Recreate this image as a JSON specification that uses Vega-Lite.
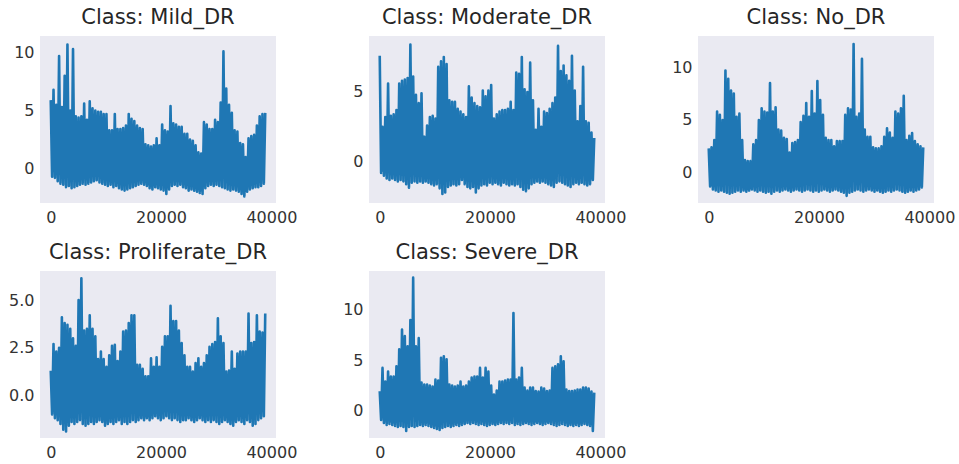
{
"$schema": "https://vega.github.io/schema/vega-lite/v6.json",
"background": "white",
"padding": {"left": 8, "top": 7, "right": 5, "bottom": 3},
"bounds": "flush",
"columns": 3,
"spacing": {"row": 68, "column": 93},
"data": {"values": [
{"x":0,"Mild":5.9,"Moderate":7.6,"No":2.3,"Proliferate":1.3,"Severe":1.95},
{"x":252,"Mild":-0.7,"Moderate":-0.8,"No":-1.3,"Proliferate":-1.0,"Severe":-0.9},
{"x":505,"Mild":6.8,"Moderate":2.5,"No":2.4,"Proliferate":2.7,"Severe":4.25},
{"x":757,"Mild":-0.8,"Moderate":-1.0,"No":-1.6,"Proliferate":-1.2,"Severe":-1.2},
{"x":1010,"Mild":5.5,"Moderate":3.2,"No":3.1,"Proliferate":2.3,"Severe":2.9},
{"x":1262,"Mild":-1.1,"Moderate":-1.2,"No":-1.7,"Proliferate":-1.3,"Severe":-1.4},
{"x":1515,"Mild":9.7,"Moderate":5.6,"No":5.8,"Proliferate":2.5,"Severe":3.9},
{"x":1767,"Mild":-1.3,"Moderate":-1.3,"No":-1.8,"Proliferate":-1.5,"Severe":-1.3},
{"x":2020,"Mild":5.3,"Moderate":3.3,"No":5.5,"Proliferate":4.1,"Severe":3.4},
{"x":2272,"Mild":-1.4,"Moderate":-1.2,"No":-1.7,"Proliferate":-1.8,"Severe":-1.4},
{"x":2525,"Mild":8.0,"Moderate":3.4,"No":5.0,"Proliferate":3.8,"Severe":3.4},
{"x":2777,"Mild":-1.6,"Moderate":-1.3,"No":-1.8,"Proliferate":-1.9,"Severe":-1.5},
{"x":3030,"Mild":10.7,"Moderate":3.7,"No":9.7,"Proliferate":3.7,"Severe":4.4},
{"x":3282,"Mild":-1.5,"Moderate":-1.4,"No":-1.9,"Proliferate":-1.6,"Severe":-1.6},
{"x":3535,"Mild":5.0,"Moderate":5.6,"No":8.9,"Proliferate":3.5,"Severe":6.1},
{"x":3787,"Mild":-1.7,"Moderate":-1.3,"No":-2.0,"Proliferate":-1.4,"Severe":-1.5},
{"x":4040,"Mild":10.3,"Moderate":5.8,"No":7.8,"Proliferate":3.0,"Severe":8.05},
{"x":4292,"Mild":-1.6,"Moderate":-1.4,"No":-1.9,"Proliferate":-1.5,"Severe":-1.6},
{"x":4545,"Mild":4.5,"Moderate":5.9,"No":7.5,"Proliferate":2.6,"Severe":7.4},
{"x":4797,"Mild":-1.5,"Moderate":-1.6,"No":-1.8,"Proliferate":-1.4,"Severe":-2.0},
{"x":5050,"Mild":4.4,"Moderate":6.0,"No":5.3,"Proliferate":5.0,"Severe":6.4},
{"x":5302,"Mild":-1.4,"Moderate":-1.85,"No":-1.7,"Proliferate":-1.3,"Severe":-1.6},
{"x":5555,"Mild":4.5,"Moderate":8.4,"No":5.6,"Proliferate":6.15,"Severe":9.0},
{"x":5807,"Mild":-1.3,"Moderate":-1.5,"No":-1.8,"Proliferate":-1.5,"Severe":-1.5},
{"x":6060,"Mild":5.6,"Moderate":6.1,"No":3.1,"Proliferate":3.4,"Severe":13.2},
{"x":6312,"Mild":-1.4,"Moderate":-1.4,"No":-1.7,"Proliferate":-1.6,"Severe":-1.6},
{"x":6565,"Mild":4.2,"Moderate":4.8,"No":1.2,"Proliferate":3.5,"Severe":6.4},
{"x":6817,"Mild":-1.3,"Moderate":-1.5,"No":-1.8,"Proliferate":-1.5,"Severe":-1.5},
{"x":7070,"Mild":5.8,"Moderate":4.2,"No":1.1,"Proliferate":4.2,"Severe":7.2},
{"x":7322,"Mild":-1.2,"Moderate":-1.4,"No":-1.7,"Proliferate":-1.4,"Severe":-1.4},
{"x":7575,"Mild":5.2,"Moderate":4.9,"No":1.1,"Proliferate":3.5,"Severe":2.8},
{"x":7827,"Mild":-1.1,"Moderate":-1.5,"No":-1.6,"Proliferate":-1.5,"Severe":-1.5},
{"x":8080,"Mild":5.0,"Moderate":1.8,"No":2.7,"Proliferate":3.1,"Severe":2.6},
{"x":8332,"Mild":-1.0,"Moderate":-1.4,"No":-1.7,"Proliferate":-1.4,"Severe":-1.4},
{"x":8585,"Mild":4.9,"Moderate":2.6,"No":3.1,"Proliferate":1.9,"Severe":2.6},
{"x":8837,"Mild":-1.2,"Moderate":-1.5,"No":-1.8,"Proliferate":-1.3,"Severe":-1.5},
{"x":9090,"Mild":4.9,"Moderate":3.2,"No":5.0,"Proliferate":2.3,"Severe":2.5},
{"x":9342,"Mild":-1.3,"Moderate":-1.6,"No":-1.7,"Proliferate":-1.4,"Severe":-1.6},
{"x":9595,"Mild":4.7,"Moderate":3.3,"No":6.1,"Proliferate":1.9,"Severe":2.4},
{"x":9847,"Mild":-1.4,"Moderate":-1.7,"No":-1.8,"Proliferate":-1.6,"Severe":-1.7},
{"x":10100,"Mild":4.7,"Moderate":3.1,"No":5.8,"Proliferate":1.5,"Severe":3.1},
{"x":10352,"Mild":-1.5,"Moderate":-1.6,"No":-1.9,"Proliferate":-1.5,"Severe":-1.8},
{"x":10605,"Mild":3.3,"Moderate":6.8,"No":5.7,"Proliferate":2.1,"Severe":3.0},
{"x":10857,"Mild":-1.4,"Moderate":-1.9,"No":-1.8,"Proliferate":-1.4,"Severe":-1.9},
{"x":11110,"Mild":3.3,"Moderate":7.2,"No":8.5,"Proliferate":2.6,"Severe":5.25},
{"x":11362,"Mild":-1.6,"Moderate":-2.3,"No":-2.0,"Proliferate":-1.5,"Severe":-1.7},
{"x":11615,"Mild":4.7,"Moderate":7.5,"No":5.8,"Proliferate":2.65,"Severe":5.4},
{"x":11867,"Mild":-1.5,"Moderate":-2.2,"No":-1.8,"Proliferate":-1.4,"Severe":-1.6},
{"x":12120,"Mild":3.4,"Moderate":7.0,"No":6.2,"Proliferate":1.8,"Severe":5.1},
{"x":12372,"Mild":-1.7,"Moderate":-1.8,"No":-1.7,"Proliferate":-1.3,"Severe":-1.5},
{"x":12625,"Mild":3.4,"Moderate":4.4,"No":4.1,"Proliferate":2.3,"Severe":2.6},
{"x":12877,"Mild":-1.8,"Moderate":-1.7,"No":-1.8,"Proliferate":-1.5,"Severe":-1.6},
{"x":13130,"Mild":3.5,"Moderate":4.3,"No":4.0,"Proliferate":3.35,"Severe":2.5},
{"x":13382,"Mild":-1.9,"Moderate":-1.6,"No":-1.7,"Proliferate":-1.4,"Severe":-1.5},
{"x":13635,"Mild":3.7,"Moderate":4.3,"No":3.3,"Proliferate":3.4,"Severe":2.4},
{"x":13887,"Mild":-1.8,"Moderate":-1.7,"No":-1.6,"Proliferate":-1.5,"Severe":-1.4},
{"x":14140,"Mild":4.7,"Moderate":3.8,"No":3.2,"Proliferate":3.8,"Severe":2.5},
{"x":14392,"Mild":-1.7,"Moderate":-1.6,"No":-1.7,"Proliferate":-1.4,"Severe":-1.5},
{"x":14645,"Mild":4.3,"Moderate":3.6,"No":1.9,"Proliferate":4.2,"Severe":2.9},
{"x":14897,"Mild":-1.6,"Moderate":-1.3,"No":-1.8,"Proliferate":-1.3,"Severe":-1.4},
{"x":15150,"Mild":4.1,"Moderate":3.4,"No":2.8,"Proliferate":4.2,"Severe":2.4},
{"x":15402,"Mild":-1.5,"Moderate":-1.6,"No":-1.7,"Proliferate":-1.4,"Severe":-1.3},
{"x":15655,"Mild":3.7,"Moderate":3.2,"No":2.9,"Proliferate":1.6,"Severe":2.5},
{"x":15907,"Mild":-1.4,"Moderate":-1.8,"No":-1.6,"Proliferate":-1.3,"Severe":-1.2},
{"x":16160,"Mild":3.5,"Moderate":5.4,"No":3.1,"Proliferate":1.6,"Severe":2.9},
{"x":16412,"Mild":-1.3,"Moderate":-1.9,"No":-1.7,"Proliferate":-1.2,"Severe":-1.3},
{"x":16665,"Mild":3.4,"Moderate":4.6,"No":4.8,"Proliferate":1.4,"Severe":3.3},
{"x":16917,"Mild":-1.4,"Moderate":-1.8,"No":-1.8,"Proliferate":-1.3,"Severe":-1.2},
{"x":17170,"Mild":2.1,"Moderate":4.2,"No":5.4,"Proliferate":1.0,"Severe":3.4},
{"x":17422,"Mild":-1.5,"Moderate":-2.2,"No":-1.7,"Proliferate":-1.2,"Severe":-1.3},
{"x":17675,"Mild":2.0,"Moderate":4.0,"No":6.6,"Proliferate":1.0,"Severe":3.4},
{"x":17927,"Mild":-1.7,"Moderate":-1.9,"No":-1.6,"Proliferate":-1.3,"Severe":-1.4},
{"x":18180,"Mild":1.9,"Moderate":3.9,"No":5.3,"Proliferate":1.95,"Severe":4.25},
{"x":18432,"Mild":-1.8,"Moderate":-1.7,"No":-1.7,"Proliferate":-1.2,"Severe":-1.3},
{"x":18685,"Mild":2.0,"Moderate":5.1,"No":7.75,"Proliferate":1.5,"Severe":3.3},
{"x":18937,"Mild":-1.6,"Moderate":-1.6,"No":-1.8,"Proliferate":-1.1,"Severe":-1.4},
{"x":19190,"Mild":2.6,"Moderate":4.7,"No":5.6,"Proliferate":2.0,"Severe":4.25},
{"x":19442,"Mild":-1.7,"Moderate":-1.7,"No":-1.7,"Proliferate":-1.2,"Severe":-1.5},
{"x":19695,"Mild":2.0,"Moderate":5.1,"No":8.7,"Proliferate":1.5,"Severe":3.9},
{"x":19947,"Mild":-1.8,"Moderate":-1.5,"No":-1.8,"Proliferate":-1.3,"Severe":-1.4},
{"x":20200,"Mild":3.8,"Moderate":5.5,"No":6.9,"Proliferate":2.55,"Severe":2.5},
{"x":20452,"Mild":-1.9,"Moderate":-1.6,"No":-1.7,"Proliferate":-1.2,"Severe":-1.3},
{"x":20705,"Mild":3.3,"Moderate":3.1,"No":5.5,"Proliferate":3.1,"Severe":1.6},
{"x":20957,"Mild":-2.2,"Moderate":-1.5,"No":-1.6,"Proliferate":-1.1,"Severe":-1.4},
{"x":21210,"Mild":3.2,"Moderate":3.4,"No":3.3,"Proliferate":3.1,"Severe":2.0},
{"x":21462,"Mild":-1.8,"Moderate":-1.6,"No":-1.7,"Proliferate":-1.2,"Severe":-1.3},
{"x":21715,"Mild":5.4,"Moderate":3.6,"No":3.1,"Proliferate":4.7,"Severe":2.9},
{"x":21967,"Mild":-1.5,"Moderate":-1.7,"No":-1.8,"Proliferate":-1.3,"Severe":-1.2},
{"x":22220,"Mild":3.9,"Moderate":3.7,"No":3.1,"Proliferate":3.9,"Severe":2.9},
{"x":22472,"Mild":-1.4,"Moderate":-1.5,"No":-1.7,"Proliferate":-1.2,"Severe":-1.3},
{"x":22725,"Mild":3.8,"Moderate":3.7,"No":2.5,"Proliferate":3.9,"Severe":3.0},
{"x":22977,"Mild":-1.5,"Moderate":-1.6,"No":-1.6,"Proliferate":-1.3,"Severe":-1.2},
{"x":23230,"Mild":3.6,"Moderate":3.8,"No":3.0,"Proliferate":3.4,"Severe":3.1},
{"x":23482,"Mild":-1.4,"Moderate":-1.7,"No":-1.7,"Proliferate":-1.4,"Severe":-1.3},
{"x":23735,"Mild":3.6,"Moderate":4.3,"No":3.0,"Proliferate":2.75,"Severe":3.1},
{"x":23987,"Mild":-1.6,"Moderate":-1.6,"No":-1.8,"Proliferate":-1.3,"Severe":-1.2},
{"x":24240,"Mild":3.0,"Moderate":3.7,"No":3.0,"Proliferate":2.1,"Severe":9.7},
{"x":24492,"Mild":-1.7,"Moderate":-1.7,"No":-1.9,"Proliferate":-1.3,"Severe":-1.4},
{"x":24745,"Mild":3.0,"Moderate":6.4,"No":5.5,"Proliferate":1.5,"Severe":3.1},
{"x":24997,"Mild":-1.9,"Moderate":-1.6,"No":-2.2,"Proliferate":-1.2,"Severe":-1.3},
{"x":25250,"Mild":2.5,"Moderate":6.3,"No":6.1,"Proliferate":1.5,"Severe":3.3},
{"x":25502,"Mild":-1.8,"Moderate":-1.8,"No":-1.9,"Proliferate":-1.3,"Severe":-1.4},
{"x":25755,"Mild":2.4,"Moderate":7.5,"No":6.0,"Proliferate":1.25,"Severe":4.25},
{"x":26007,"Mild":-1.9,"Moderate":-2.0,"No":-1.8,"Proliferate":-1.4,"Severe":-1.3},
{"x":26260,"Mild":2.0,"Moderate":5.2,"No":12.2,"Proliferate":1.7,"Severe":2.3},
{"x":26512,"Mild":-2.0,"Moderate":-2.1,"No":-1.7,"Proliferate":-1.3,"Severe":-1.2},
{"x":26765,"Mild":1.4,"Moderate":5.0,"No":5.3,"Proliferate":1.95,"Severe":2.0},
{"x":27017,"Mild":-2.1,"Moderate":-1.9,"No":-1.6,"Proliferate":-1.2,"Severe":-1.3},
{"x":27270,"Mild":1.3,"Moderate":7.1,"No":5.6,"Proliferate":1.5,"Severe":2.3},
{"x":27522,"Mild":-2.2,"Moderate":-1.6,"No":-1.7,"Proliferate":-1.3,"Severe":-1.4},
{"x":27775,"Mild":4.0,"Moderate":4.4,"No":10.8,"Proliferate":1.7,"Severe":2.3},
{"x":28027,"Mild":-1.7,"Moderate":-1.5,"No":-1.8,"Proliferate":-1.4,"Severe":-1.3},
{"x":28280,"Mild":3.8,"Moderate":2.3,"No":4.1,"Proliferate":2.1,"Severe":1.95},
{"x":28532,"Mild":-1.5,"Moderate":-1.4,"No":-1.7,"Proliferate":-1.3,"Severe":-1.2},
{"x":28785,"Mild":3.4,"Moderate":3.8,"No":3.4,"Proliferate":2.55,"Severe":1.9},
{"x":29037,"Mild":-1.4,"Moderate":-1.5,"No":-1.6,"Proliferate":-1.4,"Severe":-1.3},
{"x":29290,"Mild":3.4,"Moderate":2.5,"No":3.4,"Proliferate":2.7,"Severe":2.3},
{"x":29542,"Mild":-1.5,"Moderate":-1.4,"No":-1.7,"Proliferate":-1.3,"Severe":-1.4},
{"x":29795,"Mild":4.2,"Moderate":3.6,"No":2.4,"Proliferate":2.8,"Severe":2.2},
{"x":30047,"Mild":-1.4,"Moderate":-1.5,"No":-1.8,"Proliferate":-1.4,"Severe":-1.3},
{"x":30300,"Mild":4.0,"Moderate":3.5,"No":2.3,"Proliferate":4.05,"Severe":1.95},
{"x":30552,"Mild":-1.5,"Moderate":-1.6,"No":-1.7,"Proliferate":-1.5,"Severe":-1.2},
{"x":30805,"Mild":5.7,"Moderate":3.8,"No":2.3,"Proliferate":3.1,"Severe":2.0},
{"x":31057,"Mild":-1.6,"Moderate":-1.7,"No":-1.8,"Proliferate":-1.4,"Severe":-1.3},
{"x":31310,"Mild":10.1,"Moderate":4.2,"No":2.5,"Proliferate":2.75,"Severe":4.25},
{"x":31562,"Mild":-1.7,"Moderate":-1.8,"No":-1.9,"Proliferate":-1.3,"Severe":-1.4},
{"x":31815,"Mild":6.9,"Moderate":4.6,"No":3.4,"Proliferate":1.25,"Severe":4.4},
{"x":32067,"Mild":-1.8,"Moderate":-1.5,"No":-1.8,"Proliferate":-1.4,"Severe":-1.5},
{"x":32320,"Mild":5.5,"Moderate":8.3,"No":4.2,"Proliferate":1.3,"Severe":4.6},
{"x":32572,"Mild":-1.9,"Moderate":-1.4,"No":-1.7,"Proliferate":-1.5,"Severe":-1.4},
{"x":32825,"Mild":4.8,"Moderate":6.5,"No":3.8,"Proliferate":2.3,"Severe":5.4},
{"x":33077,"Mild":-1.8,"Moderate":-1.5,"No":-1.8,"Proliferate":-1.6,"Severe":-1.3},
{"x":33330,"Mild":3.3,"Moderate":6.9,"No":3.3,"Proliferate":1.4,"Severe":4.9},
{"x":33582,"Mild":-1.9,"Moderate":-1.6,"No":-1.7,"Proliferate":-1.4,"Severe":-1.4},
{"x":33835,"Mild":3.2,"Moderate":6.2,"No":5.8,"Proliferate":2.2,"Severe":2.1},
{"x":34087,"Mild":-2.0,"Moderate":-1.7,"No":-1.6,"Proliferate":-1.3,"Severe":-1.5},
{"x":34340,"Mild":2.2,"Moderate":5.8,"No":5.6,"Proliferate":2.3,"Severe":1.95},
{"x":34592,"Mild":-2.2,"Moderate":-1.8,"No":-1.7,"Proliferate":-1.4,"Severe":-1.4},
{"x":34845,"Mild":2.1,"Moderate":7.6,"No":6.1,"Proliferate":2.3,"Severe":1.95},
{"x":35097,"Mild":-2.4,"Moderate":-1.6,"No":-1.8,"Proliferate":-1.5,"Severe":-1.5},
{"x":35350,"Mild":1.0,"Moderate":5.1,"No":7.3,"Proliferate":2.3,"Severe":2.0},
{"x":35602,"Mild":-2.0,"Moderate":-1.5,"No":-1.9,"Proliferate":-1.3,"Severe":-1.4},
{"x":35855,"Mild":2.6,"Moderate":2.9,"No":3.1,"Proliferate":4.3,"Severe":2.1},
{"x":36107,"Mild":-1.8,"Moderate":-1.6,"No":-1.8,"Proliferate":-1.4,"Severe":-1.5},
{"x":36360,"Mild":2.8,"Moderate":4.0,"No":3.5,"Proliferate":2.75,"Severe":2.1},
{"x":36612,"Mild":-1.7,"Moderate":-1.5,"No":-1.7,"Proliferate":-1.6,"Severe":-1.4},
{"x":36865,"Mild":2.9,"Moderate":6.8,"No":3.75,"Proliferate":2.8,"Severe":2.3},
{"x":37117,"Mild":-1.6,"Moderate":-1.6,"No":-1.8,"Proliferate":-1.5,"Severe":-1.3},
{"x":37370,"Mild":3.7,"Moderate":2.9,"No":3.0,"Proliferate":4.2,"Severe":2.3},
{"x":37622,"Mild":-1.6,"Moderate":-1.7,"No":-1.7,"Proliferate":-1.3,"Severe":-1.4},
{"x":37875,"Mild":4.5,"Moderate":2.8,"No":2.7,"Proliferate":3.35,"Severe":2.2},
{"x":38127,"Mild":-1.5,"Moderate":-1.6,"No":-1.6,"Proliferate":-1.2,"Severe":-1.5},
{"x":38380,"Mild":4.7,"Moderate":2.1,"No":2.5,"Proliferate":3.3,"Severe":1.9},
{"x":38632,"Mild":-1.3,"Moderate":-1.3,"No":-1.4,"Proliferate":-1.1,"Severe":-2.0},
{"x":38885,"Mild":4.8,"Moderate":1.7,"No":2.4,"Proliferate":4.3,"Severe":1.8}
]},
"concat": [
{"title": "Class: Mild_DR", "width": 236, "height": 167, "mark": "line",
 "encoding": {
  "x": {"field": "x", "type": "quantitative", "title": null, "scale": {"domain": [-1945, 40835], "nice": false, "zero": false}, "axis": {"values": [0, 20000, 40000], "format": "d"}},
  "y": {"field": "Mild", "type": "quantitative", "title": null, "scale": {"domain": [-2.97, 11.43], "nice": false, "zero": false}, "axis": {"values": [0, 5, 10], "format": "d"}}}},
{"title": "Class: Moderate_DR", "width": 236, "height": 167, "mark": "line",
 "encoding": {
  "x": {"field": "x", "type": "quantitative", "title": null, "scale": {"domain": [-1945, 40835], "nice": false, "zero": false}, "axis": {"values": [0, 20000, 40000], "format": "d"}},
  "y": {"field": "Moderate", "type": "quantitative", "title": null, "scale": {"domain": [-2.95, 9.01], "nice": false, "zero": false}, "axis": {"values": [0, 5], "format": "d"}}}},
{"title": "Class: No_DR", "width": 236, "height": 167, "mark": "line",
 "encoding": {
  "x": {"field": "x", "type": "quantitative", "title": null, "scale": {"domain": [-1945, 40835], "nice": false, "zero": false}, "axis": {"values": [0, 20000, 40000], "format": "d"}},
  "y": {"field": "No", "type": "quantitative", "title": null, "scale": {"domain": [-2.88, 12.97], "nice": false, "zero": false}, "axis": {"values": [0, 5, 10], "format": "d"}}}},
{"title": "Class: Proliferate_DR", "width": 236, "height": 167, "mark": "line",
 "encoding": {
  "x": {"field": "x", "type": "quantitative", "title": null, "scale": {"domain": [-1945, 40835], "nice": false, "zero": false}, "axis": {"values": [0, 20000, 40000], "format": "d"}},
  "y": {"field": "Proliferate", "type": "quantitative", "title": null, "scale": {"domain": [-2.24, 6.53], "nice": false, "zero": false}, "axis": {"values": [0, 2.5, 5], "format": ".1f"}}}},
{"title": "Class: Severe_DR", "width": 236, "height": 167, "mark": "line",
 "encoding": {
  "x": {"field": "x", "type": "quantitative", "title": null, "scale": {"domain": [-1945, 40835], "nice": false, "zero": false}, "axis": {"values": [0, 20000, 40000], "format": "d"}},
  "y": {"field": "Severe", "type": "quantitative", "title": null, "scale": {"domain": [-2.7, 13.86], "nice": false, "zero": false}, "axis": {"values": [0, 5, 10], "format": "d"}}}}
],
"config": {
  "view": {"fill": "#EAEAF2", "stroke": null},
  "font": "DejaVu Sans",
  "axis": {"domain": false, "ticks": false, "tickSize": 0, "grid": false, "labelFont": "DejaVu Sans", "labelFontSize": 16, "labelColor": "#333333", "labelFlush": false},
  "axisX": {"labelPadding": 6},
  "axisY": {"labelPadding": 6},
  "title": {"font": "DejaVu Sans", "fontSize": 21, "fontWeight": "normal", "color": "#262626", "anchor": "middle", "frame": "group", "baseline": "alphabetic", "offset": 8},
  "line": {"color": "#1f77b4", "strokeWidth": 2.6, "strokeJoin": "round"}
}
}
